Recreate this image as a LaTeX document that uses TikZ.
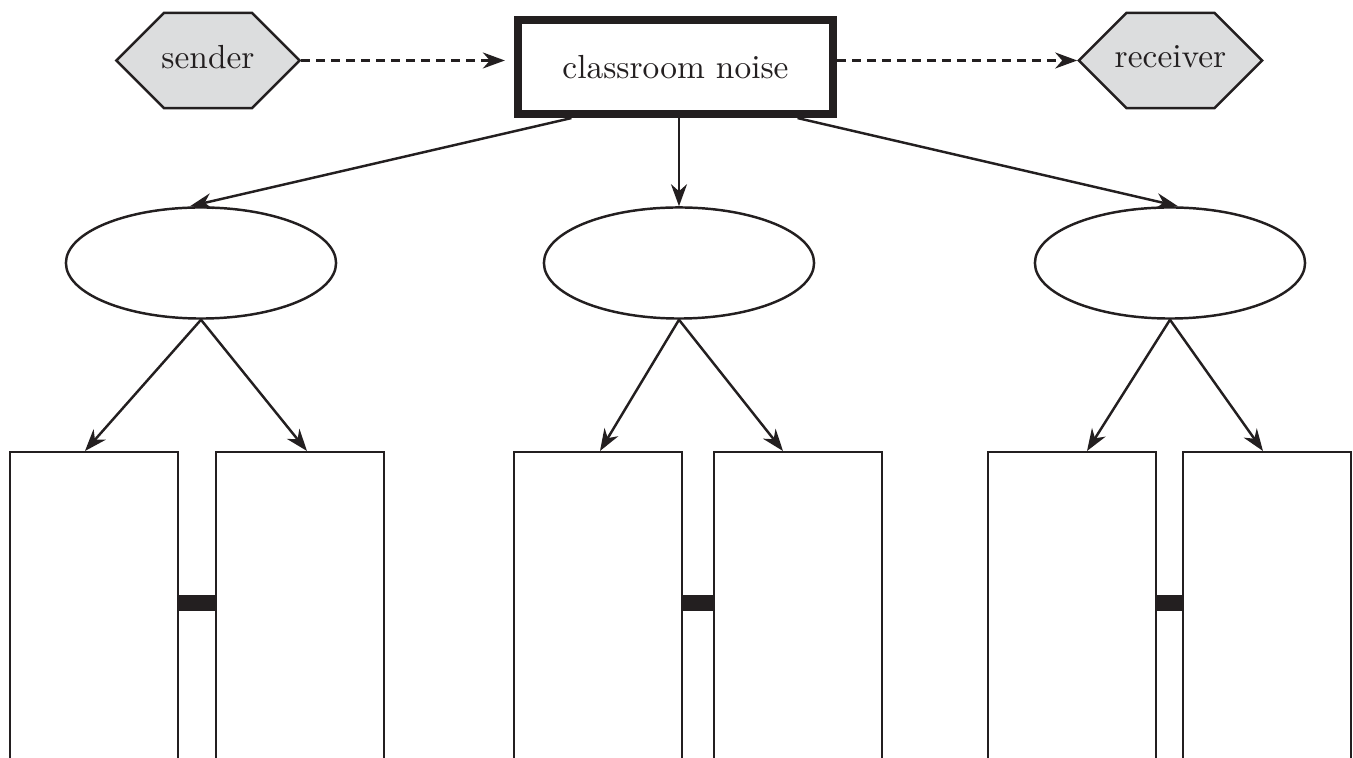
\documentclass[tikz,border=0pt]{standalone}
\usetikzlibrary{arrows.meta, positioning, shapes.geometric, shapes.symbols}
\definecolor{cink}{HTML}{231F20}
\definecolor{chex}{HTML}{DCDDDE}
\tikzset{
  every picture/.style={line width=0.7pt, color=cink},
  hexa/.style={signal, signal to=west and east, signal pointer angle=90, draw=cink, fill=chex, minimum width=1.83cm, minimum height=0.95cm, inner sep=0pt},
  noisebox/.style={draw=cink, line width=2.3pt, minimum width=3.15cm, minimum height=0.94cm},
  oval/.style={draw=cink, ellipse, minimum width=2.7cm, minimum height=1.11cm},
  panel/.style={draw=cink, minimum width=1.68cm, minimum height=4cm, anchor=north},
  arrow/.style={-{Stealth[length=2.2mm, width=1.6mm, inset=0.7mm]}, draw=cink},
  dasharrow/.style={arrow, dash pattern=on 0.9mm off 0.6mm},
  link/.style={draw=cink, line width=1.6mm},
}

\begin{document}
\begin{tikzpicture}[x=0.01cm, y=-0.01cm, font=\fontsize{9.5}{11}\selectfont]
  \useasboundingbox (0,0) rectangle (1353,758);
  \clip (0,0) rectangle (1353,758);
  % top row
  \node[hexa, label={[yshift=1pt]center:sender}] (sender) at (208,60.5) {};
  \node[noisebox] (noise) at (675.5,67) {classroom noise};
  \node[hexa, label={[yshift=1pt]center:receiver}] (receiver) at (1170.5,60.5) {};
  \draw[dasharrow, shorten >=0.9mm] (sender.east) -- (sender.east -| noise.west);
  \draw[dasharrow] (receiver.west -| noise.east) -- (receiver.west);
  % middle row
  \node[oval] (e1) at (201,263) {};
  \node[oval] (e2) at (679,263) {};
  \node[oval] (e3) at (1170,263) {};
  \draw[arrow] ([xshift=-1.04cm]noise.south) -- ([xshift=-0.11cm]e1.north);
  \draw[arrow] (noise.south -| e2.north) -- (e2.north);
  \draw[arrow] ([xshift=1.22cm]noise.south) -- ([xshift=0.08cm]e3.north);
  % bottom row: pairs of panels
  \foreach \n/\x in {p1/94, p2/300, p3/598, p4/798, p5/1072, p6/1267}
    \node[panel] (\n) at (\x,451) {};
  \foreach \e/\a/\b/\sa/\sb in {e1/p1/p2/-9/7, e2/p3/p4/2/-15, e3/p5/p6/15/-4} {
    \draw[arrow] (\e.south) -- ([xshift=\sa*0.1mm]\a.north);
    \draw[arrow] (\e.south) -- ([xshift=\sb*0.1mm]\b.north);
    \draw[link] ([yshift=-1.52cm]\a.north east) -- ([yshift=-1.52cm]\b.north west);
  }
\end{tikzpicture}
\end{document}
